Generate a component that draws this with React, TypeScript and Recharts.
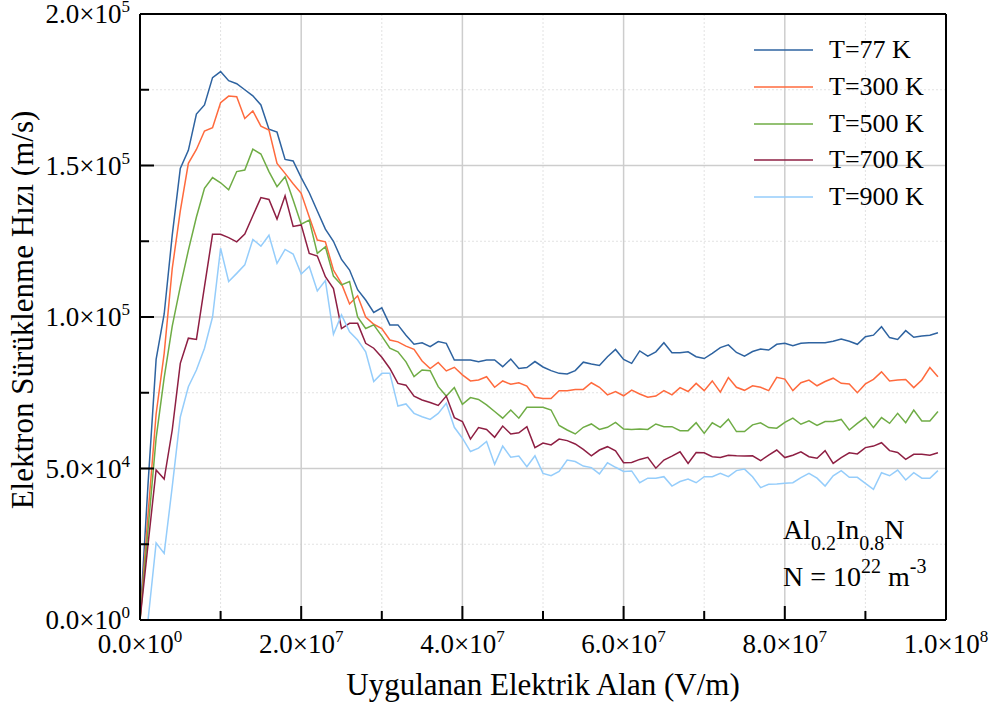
import React from "react";
import {
  LineChart, Line, XAxis, YAxis, CartesianGrid, ReferenceLine, Legend, Customized,
} from "recharts";

// applied field, MV/m (one point per 1e6 V/m)
const fieldMV = [
  0, 1, 2, 3, 4, 5, 6, 7, 8, 9, 10, 11, 12, 13, 14, 15, 16, 17, 18, 19,
  20, 21, 22, 23, 24, 25, 26, 27, 28, 29, 30, 31, 32, 33, 34, 35, 36, 37, 38, 39,
  40, 41, 42, 43, 44, 45, 46, 47, 48, 49, 50, 51, 52, 53, 54, 55, 56, 57, 58, 59,
  60, 61, 62, 63, 64, 65, 66, 67, 68, 69, 70, 71, 72, 73, 74, 75, 76, 77, 78, 79,
  80, 81, 82, 83, 84, 85, 86, 87, 88, 89, 90, 91, 92, 93, 94, 95, 96, 97, 98, 99,
];

// drift velocity, km/s
const v77 = [
  0, 45, 86, 101, 127, 149, 155, 167, 170, 179, 181, 178, 177, 175, 173, 170, 162, 161, 152, 151.5,
  146, 141, 135, 129, 125, 119, 115.5, 109, 105.6, 101.5, 103, 97.4, 97.4, 94, 91, 91.5, 90.2, 91.9, 91.3, 85.8,
  85.8, 85.8, 85.2, 85.8, 85.8, 83.6, 86.1, 83, 83.3, 85.3, 83.5, 82.3, 81.4, 81.2, 82.3, 85.1, 84.5, 84, 86.9, 89.3,
  86, 84.7, 88.8, 87.1, 88.5, 91.5, 88.2, 88.2, 88.5, 86.9, 86.3, 88, 89.9, 90.8, 88.3, 87.1, 88.6, 89.4, 89.1, 91,
  91.3, 90.5, 91.3, 91.5, 91.5, 91.5, 92, 92.7, 92, 91, 93.5, 94, 96.8, 93.2, 92.6, 95.5, 93.3, 93.7, 94, 94.8,
];
const v300 = [
  0, 35, 68, 88, 116, 135, 150.7, 155.3, 161.4, 162.5, 170.7, 172.9, 172.7, 165.5, 168, 163, 161.7, 150.7, 147.4, 144,
  140.8, 133, 125.4, 124.8, 115.5, 111, 104.3, 107, 100, 97.6, 96.2, 92.4, 91.8, 90.4, 89.3, 85.5, 83, 85, 82.2, 83.4,
  80.9, 78.9, 79.2, 80.3, 76.8, 78.9, 77.8, 78.3, 77.2, 73.5, 73.1, 73.1, 75.7, 75.7, 76.1, 76.1, 78.3, 76.8, 74.3, 75.4,
  74, 75.9, 74.6, 73.5, 73.9, 75.7, 74.3, 76.7, 75.4, 78.1, 75.7, 78.9, 75.2, 80, 76.8, 75.8, 77.3, 76.8, 75.7, 80.1,
  79.5, 75.7, 78.3, 79.2, 77.3, 78.7, 79.8, 78.1, 77.9, 75, 77.9, 79.4, 81.9, 78.9, 79.2, 79.4, 76.7, 79.2, 83.3, 80.3,
];
const v500 = [
  0, 30, 60, 80, 97, 110, 122, 133, 142.5, 146, 144.3, 142, 148, 148.5, 155.4, 153.8, 148, 143, 146.3, 138.6,
  130.6, 132, 121, 123.2, 113.5, 110.6, 111.7, 100, 96.2, 97.4, 93.7, 89.7, 88.5, 85.2, 80.3, 82.5, 82.3, 77, 73.9, 76.7,
  71.2, 73.4, 72.8, 71, 68.8, 66.6, 69.3, 66.6, 70.2, 70.2, 70.2, 69.3, 64.2, 62.7, 61.4, 63.6, 64.7, 62.9, 63.6, 65.2,
  63, 62.9, 63, 62.9, 64.7, 63.8, 63.8, 62.5, 62.5, 65.1, 61.6, 65.1, 63.6, 66.3, 62.2, 62.2, 64.4, 65.1, 63.5, 63.3,
  65.2, 66.6, 64.6, 65.7, 64.2, 65.5, 65.5, 66.2, 62.7, 64.9, 66.9, 63.5, 66.8, 64.9, 68.2, 65.1, 69.3, 65.7, 65.7, 68.8,
];
const v700 = [
  0, 25, 49.5, 46.5, 62.7, 84.7, 93, 92.6, 110, 127.3, 127.3, 126.2, 124.8, 127.4, 133.4, 139.4, 138.8, 132.3, 140, 129.9,
  130.4, 121, 120.1, 113.3, 109.4, 96.2, 97.9, 97.9, 91.3, 89.7, 86.7, 83, 78.1, 77.5, 73.9, 72.6, 71.8, 70.8, 73.9, 66.8,
  65.5, 59.7, 63.5, 62.9, 60.3, 64, 61.4, 61.8, 63.8, 56.9, 58.4, 57.8, 59.7, 59.2, 58.1, 56.3, 54.2, 56.1, 57.2, 55.8,
  51.9, 52, 53, 53.7, 50.1, 52.8, 54.1, 55.5, 51.7, 55.3, 55.2, 53.9, 53.6, 54.4, 54.2, 54.1, 54.2, 52.6, 54.4, 56.1,
  53.6, 54.4, 55.5, 53.9, 53.4, 55.9, 51.7, 53.6, 55.2, 54.8, 56.9, 57.4, 58.5, 55.9, 55.3, 53, 54.7, 54.7, 54.4, 55.2,
];
const v900 = [
  0, 0, 25.4, 22, 44, 67, 77, 82.5, 89.7, 100, 122.7, 111.7, 114.4, 117.2, 125.6, 123.4, 127, 117.7, 122.3, 120.8,
  114.2, 116.7, 108.6, 112, 94.3, 100.7, 95.1, 92.4, 88.5, 78.7, 81.4, 81.4, 70.6, 71.3, 68.2, 67.1, 66.2, 68.2, 71.5, 63.6,
  60, 55.6, 56.7, 58.9, 51.4, 57.4, 53.7, 54.1, 50.6, 54.2, 48.4, 47.6, 49, 52.8, 52.3, 50.8, 50.3, 48.2, 51.9, 50.4,
  49, 49.2, 45.3, 46.8, 46.8, 47.3, 44.2, 45.7, 46.5, 45.3, 47.3, 47.3, 48.4, 47.3, 49.3, 49.8, 47.3, 43.7, 44.8, 44.9,
  45.1, 45.3, 47, 48.4, 46.8, 44.2, 47.6, 49.3, 47.1, 47.1, 45.1, 43.1, 48.6, 47.6, 49.5, 46.2, 48.6, 46.8, 46.8, 49.3,
];

const xMajor = [0, 2e7, 4e7, 6e7, 8e7, 1e8];
const xMinor = [1e7, 3e7, 5e7, 7e7, 9e7];
const yMajor = [0, 5e4, 1e5, 1.5e5, 2e5];
const yMinor = [2.5e4, 7.5e4, 1.25e5, 1.75e5];

const series = [
  { key: "t77", name: "T=77 K", values: v77, color: "#2e63a0" },
  { key: "t300", name: "T=300 K", values: v300, color: "#ff6a3d" },
  { key: "t500", name: "T=500 K", values: v500, color: "#6fac45" },
  { key: "t700", name: "T=700 K", values: v700, color: "#8e1f43" },
  { key: "t900", name: "T=900 K", values: v900, color: "#95cdfb" },
];

const data = fieldMV.map((f, i) => {
  const row: any = { field: f * 1e6 };
  series.forEach((s) => (row[s.key] = s.values[i] * 1000));
  return row;
});

const FONT = "'Liberation Serif', 'Times New Roman', serif";

const sci = (v: number) => {
  const exp = v === 0 ? 0 : Math.floor(Math.log10(v) + 1e-9);
  const mant = (v / Math.pow(10, exp)).toFixed(1);
  return { mant, exp };
};

const SciText = ({ x, y, v, anchor }: any) => {
  const { mant, exp } = sci(v);
  return (
    <text x={x} y={y} textAnchor={anchor} fontFamily={FONT} fontSize={27} fill="#000">
      {mant}×10
      <tspan dy={-11} fontSize={17}>{exp}</tspan>
    </text>
  );
};

const YTick = ({ x, y, payload }: any) => {
  const major = yMajor.includes(payload.value);
  const ax = x + 10;
  return (
    <g>
      <line x1={ax} x2={ax + (major ? 14 : 9)} y1={y} y2={y} stroke="#000" strokeWidth={2} />
      {major && <SciText x={x} y={y + 9} v={payload.value} anchor="end" />}
    </g>
  );
};

const XTick = ({ x, y, payload }: any) => {
  const major = xMajor.includes(payload.value);
  const ay = y - 10;
  return (
    <g>
      <line x1={x} x2={x} y1={ay} y2={ay - (major ? 14 : 9)} stroke="#000" strokeWidth={2} />
      {major && <SciText x={x} y={y + 23} v={payload.value} anchor="middle" />}
    </g>
  );
};

const LegendBox = () => (
  <div style={{ fontFamily: FONT, fontSize: 26, color: "#000" }}>
    {series.map((s) => (
      <div key={s.key} style={{ display: "flex", alignItems: "center", height: 36.7 }}>
        <svg width={59} height={4} style={{ marginRight: 16, display: "block" }}>
          <line x1={0} x2={59} y1={2} y2={2} stroke={s.color} strokeWidth={1.5} />
        </svg>
        <span style={{ lineHeight: "36px" }}>{s.name}</span>
      </div>
    ))}
  </div>
);

const Texts = () => (
  <g fontFamily={FONT} fill="#000">
    <text x={543} y={695} textAnchor="middle" fontSize={31}>Uygulanan Elektrik Alan (V/m)</text>
    <text x={33} y={310} textAnchor="middle" fontSize={31} transform="rotate(-90, 33, 310)">
      Elektron Sürüklenme Hızı (m/s)
    </text>
    <text x={783} y={539} fontSize={28}>
      Al<tspan dy={11} fontSize={20}>0.2</tspan>
      <tspan dy={-11}>In</tspan>
      <tspan dy={11} fontSize={20}>0.8</tspan>
      <tspan dy={-11}>N</tspan>
    </text>
    <text x={783} y={586} fontSize={28}>
      N = 10<tspan dy={-13} fontSize={20}>22</tspan>
      <tspan dy={13}> m</tspan>
      <tspan dy={-13} fontSize={20}>-3</tspan>
    </text>
  </g>
);

export default function App() {
  return (
    <div style={{ position: "absolute", left: 0, top: 0, width: 993, height: 706, background: "#fff" }}>
      <LineChart width={993} height={706} data={data} margin={{ top: 14, right: 47, bottom: 0, left: 0 }}>
        <CartesianGrid
          horizontalValues={yMinor}
          verticalValues={xMinor}
          stroke="#e2e2e2"
          strokeDasharray="2 2"
        />
        <CartesianGrid
          horizontalValues={yMajor}
          verticalValues={xMajor}
          stroke="#cdcdcd"
          strokeWidth={1.5}
        />
        <XAxis
          dataKey="field"
          type="number"
          domain={[0, 1e8]}
          ticks={[...xMajor, ...xMinor].sort((a, b) => a - b)}
          interval={0}
          height={86}
          tickSize={0}
          tickMargin={10}
          tickLine={false}
          axisLine={{ stroke: "#000", strokeWidth: 2 }}
          tick={<XTick />}
        />
        <YAxis
          type="number"
          domain={[0, 2e5]}
          ticks={[...yMajor, ...yMinor].sort((a, b) => a - b)}
          interval={0}
          width={140}
          tickSize={0}
          tickMargin={10}
          tickLine={false}
          axisLine={{ stroke: "#000", strokeWidth: 2 }}
          tick={<YTick />}
        />
        <ReferenceLine x={1e8} stroke="#000" strokeWidth={2} />
        <ReferenceLine y={2e5} stroke="#000" strokeWidth={2} />
        {series.map((s) => (
          <Line
            key={s.key}
            type="linear"
            dataKey={s.key}
            name={s.name}
            stroke={s.color}
            strokeWidth={1.5}
            dot={false}
            isAnimationActive={false}
          />
        ))}
        <Legend
          layout="vertical"
          align="center"
          verticalAlign="middle"
          content={<LegendBox />}
          wrapperStyle={{ left: 754, top: 32, width: 200 }}
        />
        <Customized component={Texts} />
      </LineChart>
    </div>
  );
}
